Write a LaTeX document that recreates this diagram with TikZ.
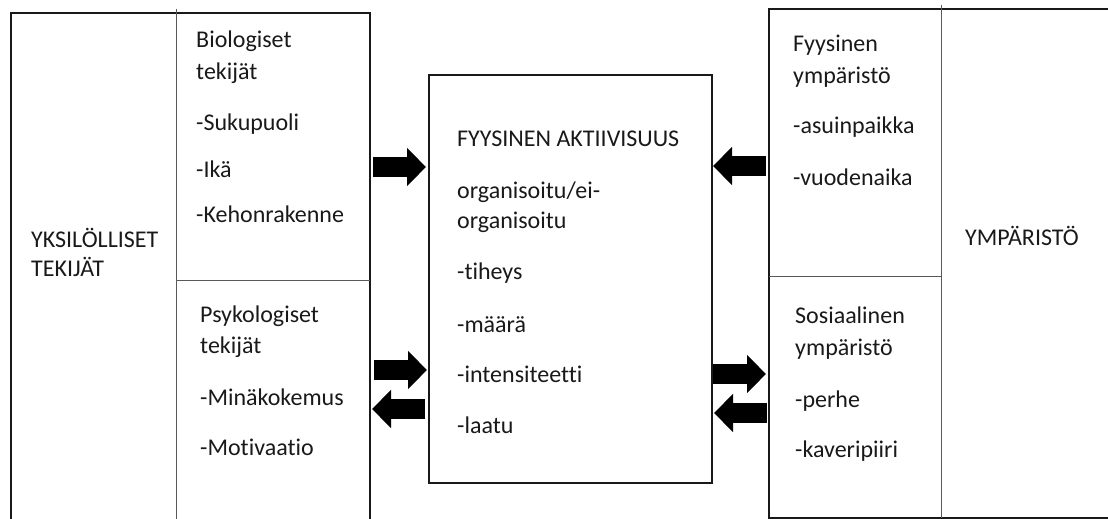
\documentclass[tikz,border=0pt]{standalone}
\usepackage{fontspec}
\setmainfont{Carlito}[Ligatures=NoCommon]
\usetikzlibrary{arrows.meta}
\begin{document}
\begin{tikzpicture}[x=1pt,y=-1pt,
  outer/.style={draw=black!90,line width=2pt},
  inner/.style={draw=black!65,line width=1pt},
  txt/.style={anchor=base west,inner sep=0pt,text=black!90,font=\fontsize{24}{28}\selectfont},
  blk/.style={line width=20pt,-{Triangle[length=19pt,width=37pt]},black,shorten >=0pt}]
\useasboundingbox (0,0) rectangle (1108,519);
\begin{scope}
\clip (0,0) rectangle (1108,519);
% left box
\draw[outer] (10.5,540) -- (10.5,12.7) -- (370,12.7) -- (370,540);
\draw[inner] (176,9) -- (176,540);
\draw[inner] (176,280) -- (370,280);
% center box
\node[outer,rectangle,minimum width=283pt,minimum height=408pt,inner sep=0pt] (cb) at (570.5,279) {};
% right box
\draw[outer] (1120,9) -- (769,9) -- (769,518) -- (1120,518);
\draw[inner] (941,5) -- (941,518);
\draw[inner] (769,276) -- (941,276);
\end{scope}
% left texts
\node[txt] (yk1) at (31,247) {YKSILÖLLISET};
\node[txt] (yk2) at (31,276) {TEKIJÄT};
\node[txt] (b1) at (196,48) {Biologiset};
\node[txt] (b2) at (196,80) {tekijät};
\node[txt] (b3) at (196,130) {-Sukupuoli};
\node[txt] (b4) at (196,177) {-Ikä};
\node[txt] (b5) at (196,222) {-Kehonrakenne};
\node[txt] (p1) at (200,322) {Psykologiset};
\node[txt] (p2) at (200,353) {tekijät};
\node[txt] (p3) at (200,405) {-Minäkokemus};
\node[txt] (p4) at (200,455) {-Motivaatio};
% center texts
\node[txt] (c1) at (457,146) {FYYSINEN AKTIIVISUUS};
\node[txt] (c2) at (457,198) {organisoitu/ei-};
\node[txt] (c3) at (457,228) {organisoitu};
\node[txt] (c4) at (457,279) {-tiheys};
\node[txt] (c5) at (457,332) {-määrä};
\node[txt] (c6) at (457,382) {-intensiteetti};
\node[txt] (c7) at (457,433) {-laatu};
% right texts
\node[txt] (f1) at (793,52) {Fyysinen};
\node[txt] (f2) at (793,83) {ympäristö};
\node[txt] (f3) at (793,133) {-asuinpaikka};
\node[txt] (f4) at (793,185) {-vuodenaika};
\node[txt] (s1) at (795,323) {Sosiaalinen};
\node[txt] (s2) at (795,355) {ympäristö};
\node[txt] (s3) at (795,407) {-perhe};
\node[txt] (s4) at (795,457) {-kaveripiiri};
\node[txt] (ym) at (965,245) {YMPÄRISTÖ};
% arrow endpoints
\coordinate (l1a) at (373,167); \coordinate (l1b) at (426,167);
\coordinate (l2a) at (374,370); \coordinate (l2b) at (427,370);
\coordinate (l3a) at (425,409); \coordinate (l3b) at (372,409);
\coordinate (r1a) at (766,166); \coordinate (r1b) at (713,166);
\coordinate (r2a) at (713,374); \coordinate (r2b) at (766,374);
\coordinate (r3a) at (767,413); \coordinate (r3b) at (714,413);
\draw[blk] (l1a) -- (l1b);
\draw[blk] (l2a) -- (l2b);
\draw[blk] (l3a) -- (l3b);
\draw[blk] (r1a) -- (r1b);
\draw[blk] (r2a) -- (r2b);
\draw[blk] (r3a) -- (r3b);
\end{tikzpicture}
\end{document}
